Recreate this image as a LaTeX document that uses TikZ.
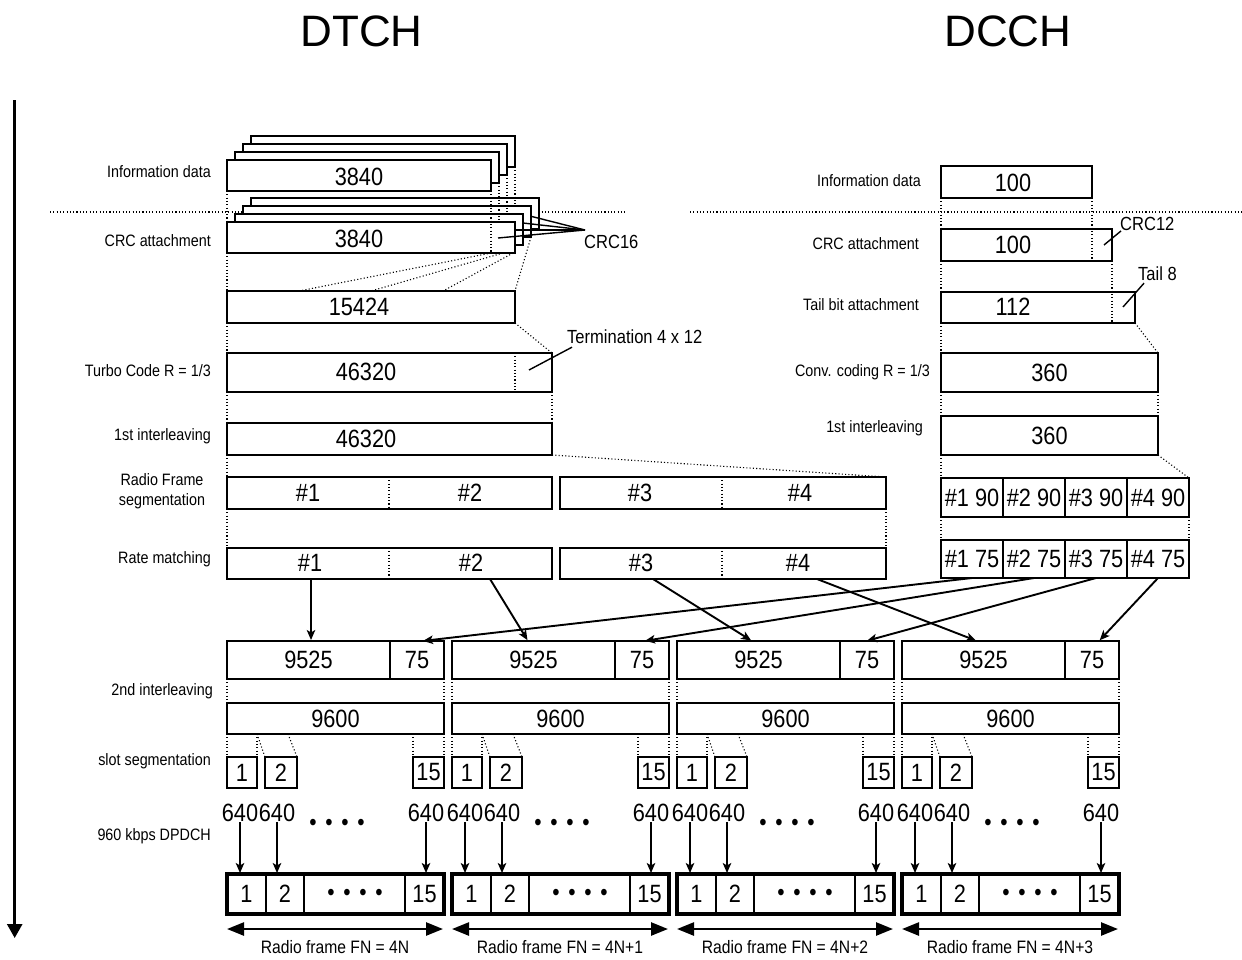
\documentclass[tikz,border=0pt]{standalone}
\usepackage{fontspec}
\setmainfont{Liberation Sans}[FakeStretch=0.87]
\newfontfamily\titlefont{Liberation Sans}
\usetikzlibrary{arrows.meta,calc}
\newcommand\bx[7][]{\node[box,#1,minimum width={#4-(#2)},minimum height={#5-(#3)}] (#6) at ({(#2+#4)/2},{(#3+#5)/2}) {#7};}
\newcommand\dotrow{•\hspace{8.7pt}•\hspace{8.7pt}•\hspace{8.7pt}•}
\begin{document}
\begin{tikzpicture}[x=1pt,y=-1pt,
  box/.style={draw,line width=1.7pt,fill=white,inner sep=0pt,outer sep=0pt,font=\fontsize{25}{28}\selectfont},
  thinbox/.style={line width=1.3pt},
  num/.style={inner sep=0pt,font=\fontsize{25}{28}\selectfont},
  lbl/.style={inner sep=0pt,font=\fontsize{16.5}{20}\selectfont},
  note/.style={inner sep=0pt,font=\fontsize{19}{22}\selectfont},
  frm/.style={inner sep=0pt,font=\fontsize{18}{20}\selectfont},
  bul/.style={inner sep=0pt,anchor=base,font=\fontsize{24}{26}\selectfont},
  title/.style={inner sep=0pt,font=\titlefont\fontsize{44}{50}\selectfont},
  dotl/.style={line width=1.1pt,dash pattern=on 1.1pt off 2.2pt},
  arr/.style={line width=1.9pt,-{Stealth[length=10pt,width=8.5pt,inset=2.5pt]},shorten >=1pt},
  farr/.style={line width=2.5pt,{Triangle[length=17pt,width=13pt]}-{Triangle[length=17pt,width=13pt]}},
  lead/.style={line width=1.4pt},
]
\useasboundingbox (0,0) rectangle (1242,959);

% titles
\node[title] (dtch) at (361.5,31) {DTCH};
\node[title] (dcch) at (1008,31) {DCCH};

% time arrow
\coordinate (ta) at (14.7,100);
\coordinate (tb) at (14.7,938);
\draw[line width=2.7pt,-{Triangle[length=14pt,width=15pt]}] (ta) -- (tb);

% separators
\coordinate (s1a) at (50,212);
\coordinate (s1b) at (625,212);
\coordinate (s2a) at (690,212);
\coordinate (s2b) at (1242,212);
\draw[dotl] (s1a) -- (s1b);
\draw[dotl] (s2a) -- (s2b);

% DTCH labels
\node[lbl,anchor=east] (l1) at (211,172) {Information data};
\node[lbl,anchor=east] (l2) at (211,241) {CRC attachment};
\node[lbl,anchor=east] (l3) at (211,371) {Turbo Code R = 1/3};
\node[lbl,anchor=east] (l4) at (211,436) {1st interleaving};
\node[lbl,align=center] (l5) at (162,491) {Radio Frame\\segmentation};
\node[lbl,anchor=east] (l6) at (211,559) {Rate matching};
\node[lbl,anchor=east] (l7) at (213,691) {2nd interleaving};
\node[lbl,anchor=east] (l8) at (211,761) {slot segmentation};
\node[lbl,anchor=east] (l9) at (211,836) {960 kbps DPDCH};

% DCCH labels
\node[lbl,anchor=east] (r1) at (921,181) {Information data};
\node[lbl,anchor=east] (r2) at (919,244) {CRC attachment};
\node[lbl,anchor=east] (r3) at (919,305) {Tail bit attachment};
\node[lbl,anchor=east] (r4) at (930,372) {Conv. coding R = 1/3};
\node[lbl,anchor=east] (r5) at (923,428) {1st interleaving};

% DTCH information data stack
\foreach \k in {3,2,1,0}{
  \bx{227+8*\k}{160-8*\k}{491+8*\k}{191-8*\k}{info\k}{}
}
\node[num] (infot) at (359,176.5) {3840};
% CRC stack
\coordinate (crcpt) at (585,230);
\foreach \k in {3,2,1,0}{
  \bx{227+8*\k}{222-8*\k}{515+8*\k}{253-8*\k}{crc\k}{}
  \draw[dotl] (info\k.south east) -- (info\k.south east |- crc\k.south);
  \coordinate (crcin\k) at ({498+8*\k},{238-8*\k});
  \draw[lead] (crcin\k) -- (crcpt);
}
\node[num] (crct) at (359,239) {3840};
\node[note,anchor=west] (crc16) at (584,242) {CRC16};
\draw[dotl] (info0.south west) -- (crc0.north west);

% 15424 and below
\bx{227}{291}{515}{323}{b15424}{}
\node[num] (t15424) at (359,307) {15424};
\draw[dotl] (crc0.south west) -- (b15424.north west);
\draw[dotl] (crc0.south -| info0.south east) -- ($(b15424.north west)+(72,0)$);
\draw[dotl] ($(crc0.south west)+(276,0)$) -- ($(b15424.north west)+(144,0)$);
\draw[dotl] ($(crc0.south west)+(286,0)$) -- ($(b15424.north west)+(216,0)$);
\draw[dotl] (crc2.south east) -- (b15424.north east);

\bx{227}{353}{552}{392}{turbo}{}
\node[num] (tturbo) at (366,372) {46320};
\draw[dotl] (b15424.south east |- turbo.north) -- (b15424.south east |- turbo.south);
\draw[dotl] (b15424.south west) -- (turbo.north west);
\draw[dotl] (b15424.south east) -- (turbo.north east);
\node[note,anchor=west] (term) at (567,337) {Termination 4 x 12};
\coordinate (termin) at (529,370);
\draw[lead] (termin) -- ($(term.south west)+(5,3)$);

\bx{227}{423}{552}{455}{int1}{}
\node[num] (tint1) at (366,439) {46320};
\draw[dotl] (turbo.south west) -- (int1.north west);
\draw[dotl] (turbo.south east) -- (int1.north east);

\bx{227}{477}{552}{509}{segA}{}
\bx{560}{477}{886}{509}{segB}{}
\draw[dotl] ($(segA.north west)+(162,0)$) -- ($(segA.south west)+(162,0)$);
\draw[dotl] ($(segB.north west)+(162,0)$) -- ($(segB.south west)+(162,0)$);
\node[num] (sg1) at (308,493) {\#1};
\node[num] (sg2) at (470,493) {\#2};
\node[num] (sg3) at (640,493) {\#3};
\node[num] (sg4) at (800,493) {\#4};
\draw[dotl] (int1.south west) -- (segA.north west);
\draw[dotl] (int1.south east) -- (segB.north east);

\bx{227}{548}{552}{579}{rmA}{}
\bx{560}{548}{886}{579}{rmB}{}
\draw[dotl] ($(rmA.north west)+(162,0)$) -- ($(rmA.south west)+(162,0)$);
\draw[dotl] ($(rmB.north west)+(162,0)$) -- ($(rmB.south west)+(162,0)$);
\node[num] (rt1) at (310,563) {\#1};
\node[num] (rt2) at (471,563) {\#2};
\node[num] (rt3) at (641,563) {\#3};
\node[num] (rt4) at (798,563) {\#4};
\draw[dotl] (segA.south west) -- (rmA.north west);
\draw[dotl] (segB.south east) -- (rmB.north east);

% DCCH chain
\bx{941}{166}{1092}{198}{cinfo}{}
\node[num] (tcinfo) at (1013,183) {100};
\bx{941}{229}{1112}{261}{ccrc}{}
\node[num] (tccrc) at (1013,245) {100};
\draw[dotl] (cinfo.south west) -- (ccrc.north west);
\draw[dotl] (cinfo.south east) -- (cinfo.south east |- ccrc.south);
\node[note,anchor=west] (crc12) at (1120,224) {CRC12};
\coordinate (crc12in) at (1104,245);
\draw[lead] (crc12in) -- ($(crc12.south west)+(1,0)$);

\bx{941}{292}{1135}{323}{ctail}{}
\node[num] (tctail) at (1013,307) {112};
\draw[dotl] (ccrc.south west) -- (ctail.north west);
\draw[dotl] (ccrc.south east) -- (ccrc.south east |- ctail.south);
\node[note,anchor=west] (tail8) at (1138,274) {Tail 8};
\coordinate (tailin) at (1123,307);
\draw[lead] (tailin) -- ($(tail8.south west)+(6,2)$);

\bx{941}{353}{1158}{392}{cconv}{360}
\draw[dotl] (ctail.south west) -- (cconv.north west);
\draw[dotl] (ctail.south east) -- (cconv.north east);
\bx{941}{416}{1158}{455}{cint}{360}
\draw[dotl] (cconv.south west) -- (cint.north west);
\draw[dotl] (cconv.south east) -- (cint.north east);

\foreach \i in {1,2,3,4}{
  \bx{941+62*(\i-1)}{478}{941+62*\i}{517}{cs\i}{\#\i{} 90}
  \bx{941+62*(\i-1)}{540}{941+62*\i}{578}{cr\i}{\#\i{} 75}
}
\draw[dotl] (cint.south west) -- (cs1.north west);
\draw[dotl] (cint.south east) -- (cs4.north east);
\draw[dotl] (cs1.south west) -- (cr1.north west);
\draw[dotl] (cs4.south east) -- (cr4.north east);

% radio frames
\foreach \f/\x/\lab in {1/227/4N,2/452/4N+1,3/677/4N+2,4/902/4N+3}{
  \bx{\x}{641}{\x+163}{679}{a\f}{9525}
  \bx{\x+163}{641}{\x+217}{679}{b\f}{75}
  \bx{\x}{703}{\x+217}{734}{c\f}{9600}
  \bx{\x}{757}{\x+30}{788}{sa\f}{1}
  \bx{\x+38}{757}{\x+70}{788}{sb\f}{2}
  \bx{\x+186}{757}{\x+217}{788}{sc\f}{15}
  \draw[dotl] (a\f.south west) -- (c\f.north west);
  \draw[dotl] (b\f.south east) -- (c\f.north east);
  \draw[dotl] (c\f.south west) -- (sa\f.north west);
  \draw[dotl] (sa\f.north east |- c\f.south) -- (sa\f.north east);
  \draw[dotl] (sa\f.north east |- c\f.south) -- (sb\f.north west);
  \draw[dotl] ($(c\f.south west)+(61,0)$) -- (sb\f.north east);
  \draw[dotl] (sc\f.north west |- c\f.south) -- (sc\f.north west);
  \draw[dotl] (c\f.south east) -- (sc\f.north east);
  \node[num] (qa\f) at (\x+13,813) {640};
  \node[num] (qb\f) at (\x+50,813) {640};
  \node[num] (qc\f) at (\x+199,813) {640};
  \node[bul] (qd\f) at (\x+110,830) {\dotrow};
  \bx[thinbox]{\x}{874}{\x+39}{914}{da\f}{1}
  \bx[thinbox]{\x+39}{874}{\x+77}{914}{db\f}{2}
  \bx[thinbox]{\x+77}{874}{\x+178}{914}{dc\f}{}
  \bx[thinbox]{\x+178}{874}{\x+217}{914}{dd\f}{15}
  \node[bul] (dcd\f) at (\x+128,900) {\dotrow};
  \bx[fill=none,line width=3.5pt]{\x}{874}{\x+217}{914}{o\f}{}
  \draw[arr] (qa\f.south) -- (qa\f.south |- o\f.north);
  \draw[arr] (qb\f.south) -- (qb\f.south |- o\f.north);
  \draw[arr] (qc\f.south) -- (qc\f.south |- o\f.north);
  \coordinate (fl\f) at (\x,929);
  \coordinate (fr\f) at (\x+216,929);
  \draw[farr] (fl\f) -- (fr\f);
  \node[frm] (fn\f) at (\x+108,947) {Radio frame FN = \lab};
}

% rate matching to frames
\draw[arr] ($(rmA.south west)+(84,0)$) -- ($(a1.north west)+(84,0)$);
\draw[arr] ($(rmA.south west)+(263,0)$) -- ($(a2.north west)+(76,0)$);
\draw[arr] ($(rmB.south west)+(93,0)$) -- ($(a3.north west)+(75,0)$);
\draw[arr] ($(rmB.south west)+(257,0)$) -- ($(a4.north west)+(75,0)$);
\draw[arr] (cr1.south) -- ($(b1.north)+(5,0)$);
\draw[arr] (cr2.south) -- ($(b2.north)+(2,0)$);
\draw[arr] (cr3.south) -- ($(b3.north)+(-1,0)$);
\draw[arr] (cr4.south) -- ($(b4.north)+(7,0)$);
\end{tikzpicture}
\end{document}
